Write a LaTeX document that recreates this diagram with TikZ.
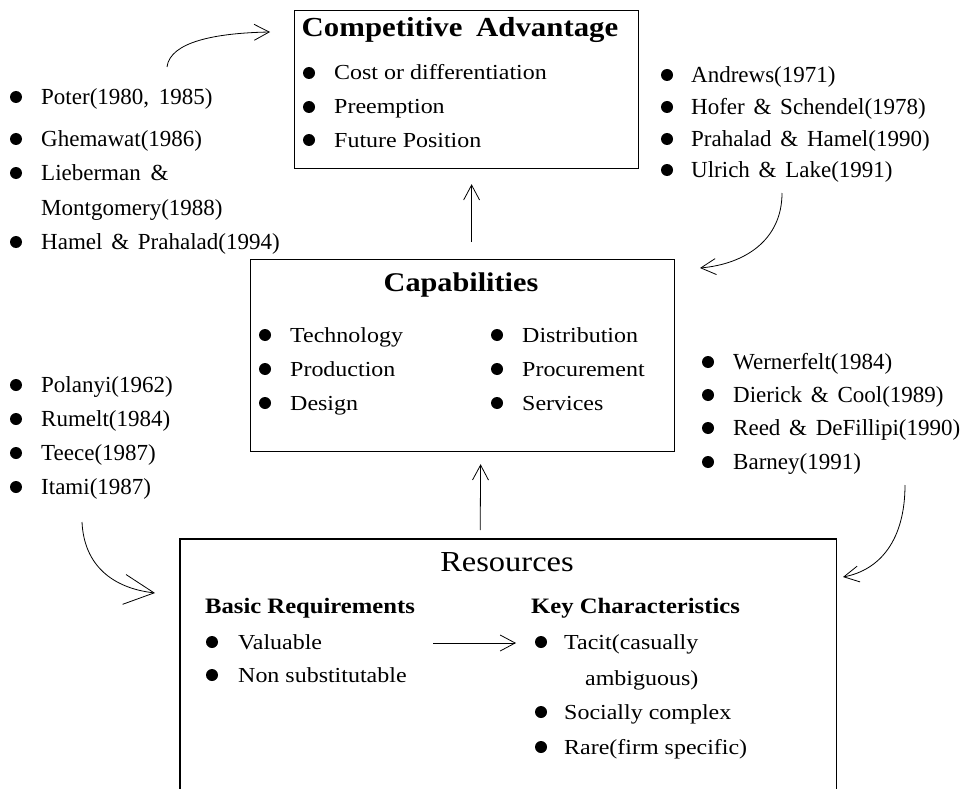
\documentclass[tikz,border=0pt]{standalone}
\usepackage{fontspec}
\setmainfont{Liberation Serif}
\newfontfamily\bxf{Liberation Serif}[FakeStretch=1.12]
\usetikzlibrary{arrows.meta,calc}
\begin{document}
\begin{tikzpicture}[x=1pt,y=-1pt,
  cite/.style={anchor=base west, yshift=-7.5pt, inner sep=0, font=\fontsize{23}{27}\selectfont},
  btxt/.style={anchor=base west, yshift=-7pt, inner sep=0, font=\bxf\fontsize{21.4}{25}\selectfont},
  ttl/.style={anchor=base, inner sep=0, font=\bxf\bfseries\fontsize{25}{29}\selectfont},
  sub/.style={anchor=base west, inner sep=0, font=\bxf\bfseries\fontsize{22}{26}\selectfont},
  blt/.style={circle, fill=black, minimum size=12pt, inner sep=0},
  bx/.style={draw, line width=1.2pt, anchor=north west, inner sep=0},
  arr/.style={line width=0.8pt, -{Straight Barb[length=15pt,width=16pt,line width=0.8pt]}},
  bigarr/.style={line width=0.8pt, -{Straight Barb[length=30pt,width=30pt,line width=0.8pt]}},
]
\useasboundingbox (0,0) rectangle (961,789);

% ---------- boxes ----------
\node[bx, minimum width=344pt, minimum height=158pt] (ca) at (294,10) {};
\node[bx, minimum width=424pt, minimum height=192pt] (cap) at (250,259) {};
\node[anchor=north west, inner sep=0, minimum width=656pt, minimum height=250pt] (res) at (180,539) {};
\draw[line width=1.2pt] (res.south west) -- (res.north west) -- (res.north east) -- (res.south east);

% ---------- Competitive Advantage ----------
\node[ttl, font=\bxf\bfseries\fontsize{27.5}{31}\selectfont] (catitle) at (460,37) {Competitive\hspace{6pt} Advantage};
\node[blt] (cab1) at (309,73) {};  \node[btxt] (ca1) at (334,73) {Cost or differentiation};
\node[blt] (cab2) at (309,107) {}; \node[btxt] (ca2) at (334,107) {Preemption};
\node[blt] (cab3) at (309,140) {}; \node[btxt] (ca3) at (334,140) {Future Position};

% ---------- Capabilities ----------
\node[ttl, font=\bxf\bfseries\fontsize{27}{31}\selectfont] (captitle) at (461,291) {Capabilities};
\node[blt] (cpb1) at (265,335) {}; \node[btxt] (cp1) at (290,335) {Technology};
\node[blt] (cpb2) at (265,369) {}; \node[btxt] (cp2) at (290,369) {Production};
\node[blt] (cpb3) at (265,403) {}; \node[btxt] (cp3) at (290,403) {Design};
\node[blt] (cpb4) at (497,335) {}; \node[btxt] (cp4) at (522,335) {Distribution};
\node[blt] (cpb5) at (497,369) {}; \node[btxt] (cp5) at (522,369) {Procurement};
\node[blt] (cpb6) at (497,403) {}; \node[btxt] (cp6) at (522,403) {Services};

% ---------- Resources ----------
\node[anchor=base, inner sep=0, font=\bxf\fontsize{29}{33}\selectfont] (restitle) at (507,571) {Resources};
\node[sub] (basic) at (205,613) {Basic Requirements};
\node[sub] (key) at (531,613) {Key Characteristics};
\node[blt] (rb1) at (212,642) {}; \node[btxt] (r1) at (238,642) {Valuable};
\node[blt] (rb2) at (212,675) {}; \node[btxt] (r2) at (238,675) {Non substitutable};
\node[blt] (kb1) at (541,642) {}; \node[btxt] (k1) at (564,642) {Tacit(casually};
\node[btxt] (k1b) at (585,678) {ambiguous)};
\node[blt] (kb2) at (541,712) {}; \node[btxt] (k2) at (564,712) {Socially complex};
\node[blt] (kb3) at (541,747) {}; \node[btxt] (k3) at (564,747) {Rare(firm specific)};
\coordinate (hs) at (433,643);
\coordinate (he) at (516,643);
\draw[arr] (hs) -- (he);

% ---------- citations top-left ----------
\node[blt] (p1b) at (16,97) {};  \node[cite] (p1) at (41,97) {Poter(1980,\hspace{4pt} 1985)};
\node[blt] (p2b) at (16,139) {}; \node[cite] (p2) at (41,139) {Ghemawat(1986)};
\node[blt] (p3b) at (16,173) {}; \node[cite] (p3) at (41,173) {Lieberman\hspace{4pt} \&};
\node[cite] (p3c) at (41,208) {Montgomery(1988)};
\node[blt] (p4b) at (16,242) {}; \node[cite] (p4) at (41,242) {Hamel\hspace{3pt} \&\hspace{3pt} Prahalad(1994)};

% ---------- citations top-right ----------
\node[blt] (q1b) at (667,75) {};  \node[cite] (q1) at (691,75) {Andrews(1971)};
\node[blt] (q2b) at (667,107) {}; \node[cite] (q2) at (691,107) {Hofer\hspace{3pt} \&\hspace{3pt} Schendel(1978)};
\node[blt] (q3b) at (667,139) {}; \node[cite] (q3) at (691,139) {Prahalad\hspace{3pt} \&\hspace{3pt} Hamel(1990)};
\node[blt] (q4b) at (667,170) {}; \node[cite] (q4) at (691,170) {Ulrich\hspace{3pt} \&\hspace{3pt} Lake(1991)};

% ---------- citations bottom-left ----------
\node[blt] (s1b) at (16,385) {}; \node[cite] (s1) at (41,385) {Polanyi(1962)};
\node[blt] (s2b) at (16,419) {}; \node[cite] (s2) at (41,419) {Rumelt(1984)};
\node[blt] (s3b) at (16,453) {}; \node[cite] (s3) at (41,453) {Teece(1987)};
\node[blt] (s4b) at (16,487) {}; \node[cite] (s4) at (41,487) {Itami(1987)};

% ---------- citations bottom-right ----------
\node[blt] (t1b) at (708,362) {}; \node[cite] (t1) at (733,362) {Wernerfelt(1984)};
\node[blt] (t2b) at (708,395) {}; \node[cite] (t2) at (733,395) {Dierick\hspace{3pt} \&\hspace{3pt} Cool(1989)};
\node[blt] (t3b) at (708,428) {}; \node[cite] (t3) at (733,428) {Reed\hspace{3pt} \&\hspace{3pt} DeFillipi(1990)};
\node[blt] (t4b) at (708,462) {}; \node[cite] (t4) at (733,462) {Barney(1991)};

% ---------- vertical arrows ----------
\draw[arr] ($(cap.north)+(9,-17)$) -- ($(ca.south)+(5,15)$);
\draw[arr] ($(res.north)+(-28,-9)$) -- ($(cap.south)+(18,12)$);

% ---------- curved arrows ----------
\coordinate (c1s) at (167,67);  \coordinate (c1e) at (270,32);
\draw[arr] (c1s) .. controls (170,42) and (215,33) .. (c1e);
\coordinate (c2s) at (782,193); \coordinate (c2e) at (700,268);
\draw[arr] (c2s) .. controls (782,240) and (745,264) .. (c2e);
\coordinate (c3s) at (82,522);  \coordinate (c3e) at (155,593);
\draw[bigarr] (c3s) .. controls (84,565) and (112,588) .. (c3e);
\coordinate (c4s) at (905,485); \coordinate (c4e) at (843,577);
\draw[arr] (c4s) .. controls (905,540) and (880,570) .. (c4e);
\end{tikzpicture}
\end{document}
